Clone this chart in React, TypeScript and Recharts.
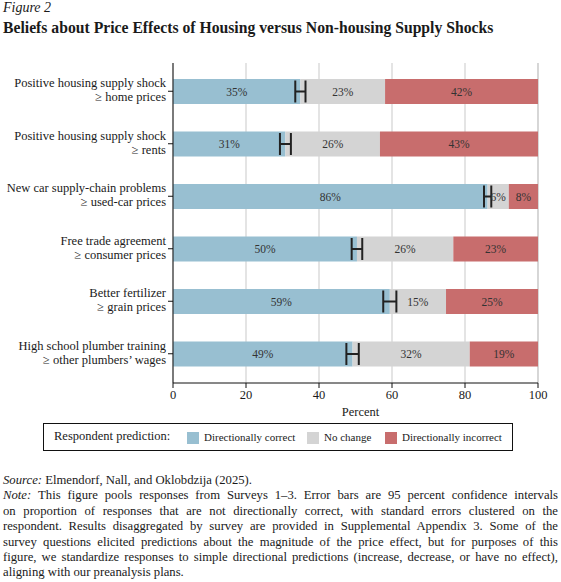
import React from "react";
import { BarChart, Bar, XAxis, YAxis, CartesianGrid, ErrorBar, LabelList } from "recharts";

// shock -> outcome, two lines per category label
const shocks = [
  "Positive housing supply shock",
  "Positive housing supply shock",
  "New car supply-chain problems",
  "Free trade agreement",
  "Better fertilizer",
  "High school plumber training",
];
const outcomes = [
  "\u2265 home prices",
  "\u2265 rents",
  "\u2265 used-car prices",
  "\u2265 consumer prices",
  "\u2265 grain prices",
  "\u2265 other plumbers\u2019 wages",
];

// shares of respondents (percent)
const correct = [34.9, 30.8, 86.2, 50.4, 59.4, 49.2];
const noChange = [23.2, 25.9, 5.8, 26.4, 15.4, 32.1];
const incorrect = [41.9, 43.3, 8.0, 23.2, 25.2, 18.7];
// 95% CI half-width on share not directionally correct
const ciHalf = [1.4, 1.5, 1.0, 1.45, 1.8, 1.7];

const xTicks = [0, 20, 40, 60, 80, 100];

// note text, broken the way the printed figure breaks it
const noteLines = [
  "This figure pools responses from Surveys 1\u20133. Error bars are 95 percent confidence intervals",
  "on proportion of responses that are not directionally correct, with standard errors clustered on the",
  "respondent. Results disaggregated by survey are provided in Supplemental Appendix 3. Some of the",
  "survey questions elicited predictions about the magnitude of the price effect, but for purposes of this",
  "figure, we standardize responses to simple directional predictions (increase, decrease, or have no effect),",
  "aligning with our preanalysis plans.",
];

const BLUE = "#98bfd1";
const GRAY = "#d4d4d4";
const RED = "#c86d6d";
const SERIF = "'Liberation Serif', 'DejaVu Serif', serif";

const data = shocks.map((s, i) => ({
  name: s + "|" + outcomes[i],
  correct: correct[i],
  noChange: noChange[i],
  incorrect: incorrect[i],
  err: ciHalf[i],
}));

const pct = (v: any) => `${Math.round(Number(v))}%`;

const CategoryTick = (props: any) => {
  const { x, y, payload } = props;
  const [l1, l2] = String(payload.value).split("|");
  return (
    <text x={x} y={y} textAnchor="end" fontFamily={SERIF} fontSize={12.5} fill="#1a1a1a">
      <tspan x={x} dy={-4}>{l1}</tspan>
      <tspan x={x} dy={14}>{l2}</tspan>
    </text>
  );
};

const legendItems = [
  { label: "Directionally correct", color: BLUE },
  { label: "No change", color: GRAY },
  { label: "Directionally incorrect", color: RED },
];

const App = () => {
  return (
    <div
      style={{
        position: "absolute",
        left: 0,
        top: 0,
        width: 561,
        height: 582,
        background: "#fff",
        fontFamily: SERIF,
        color: "#1a1a1a",
        overflow: "hidden",
      }}
    >
      <div style={{ position: "absolute", left: 3, top: 0, fontSize: 14, fontStyle: "italic" }}>Figure 2</div>
      <div style={{ position: "absolute", left: 3, top: 19, fontSize: 15.7, fontWeight: "bold" }}>
        Beliefs about Price Effects of Housing versus Non-housing Supply Shocks
      </div>

      <div style={{ position: "absolute", left: 0, top: 0 }}>
        <BarChart
          width={561}
          height={440}
          data={data}
          layout="vertical"
          margin={{ top: 63, right: 23, left: 8, bottom: 27 }}
        >
          <CartesianGrid horizontal={false} stroke="#c9c9c9" />
          <XAxis
            type="number"
            domain={[0, 100]}
            ticks={xTicks}
            height={30}
            axisLine={{ stroke: "#111" }}
            tickLine={{ stroke: "#111" }}
            tickSize={5}
            tick={{ fontFamily: SERIF, fontSize: 12.5, fill: "#1a1a1a" }}
            label={{
              value: "Percent",
              position: "insideBottom",
              offset: -3,
              dx: 5,
              style: { fontFamily: SERIF, fontSize: 12.5, fill: "#1a1a1a" },
            }}
          />
          <YAxis
            type="category"
            dataKey="name"
            width={165}
            axisLine={{ stroke: "#111" }}
            tickLine={{ stroke: "#111" }}
            tickSize={5}
            tick={<CategoryTick />}
            padding={{ top: 2, bottom: 3 }}
          />
          <Bar dataKey="correct" stackId="a" fill={BLUE} barSize={25} isAnimationActive={false}>
            <LabelList dataKey="correct" position="center" formatter={pct} fill="#333" fontSize={11.5} fontFamily={SERIF} />
            <ErrorBar dataKey="err" direction="x" width={11} stroke="#222" strokeWidth={2} />
          </Bar>
          <Bar dataKey="noChange" stackId="a" fill={GRAY} barSize={25} isAnimationActive={false}>
            <LabelList dataKey="noChange" position="center" formatter={pct} fill="#333" fontSize={11.5} fontFamily={SERIF} />
          </Bar>
          <Bar dataKey="incorrect" stackId="a" fill={RED} barSize={25} isAnimationActive={false}>
            <LabelList dataKey="incorrect" position="center" formatter={pct} fill="#333" fontSize={11.5} fontFamily={SERIF} />
          </Bar>
        </BarChart>
      </div>

      <div
        style={{
          position: "absolute",
          left: 43,
          top: 423,
          width: 468,
          height: 26,
          border: "1px solid #111",
        }}
      >
        <span style={{ position: "absolute", left: 10, top: 5, fontSize: 12.5 }}>Respondent prediction:</span>
        {legendItems.map((it, i) => {
          const sw = [143, 263, 341][i];
          return (
            <React.Fragment key={it.label}>
              <span
                style={{ position: "absolute", left: sw, top: 8, width: 12, height: 12, background: it.color }}
              />
              <span style={{ position: "absolute", left: sw + 17, top: 6.5, fontSize: 11 }}>{it.label}</span>
            </React.Fragment>
          );
        })}
      </div>

      <div
        style={{
          position: "absolute",
          left: 3,
          top: 473,
          width: 555,
          fontSize: 12.7,
          lineHeight: "15.4px",
          whiteSpace: "nowrap",
        }}
      >
        <div>
          <i>Source:</i> Elmendorf, Nall, and Oklobdzija (2025).
        </div>
        {noteLines.map((line, i) => {
          const last = i === noteLines.length - 1;
          return (
            <div key={i} style={{ textAlign: "justify", textAlignLast: last ? "left" : "justify" }}>
              {i === 0 && <i>Note: </i>}
              {line}
            </div>
          );
        })}
      </div>
    </div>
  );
};

export default App;
